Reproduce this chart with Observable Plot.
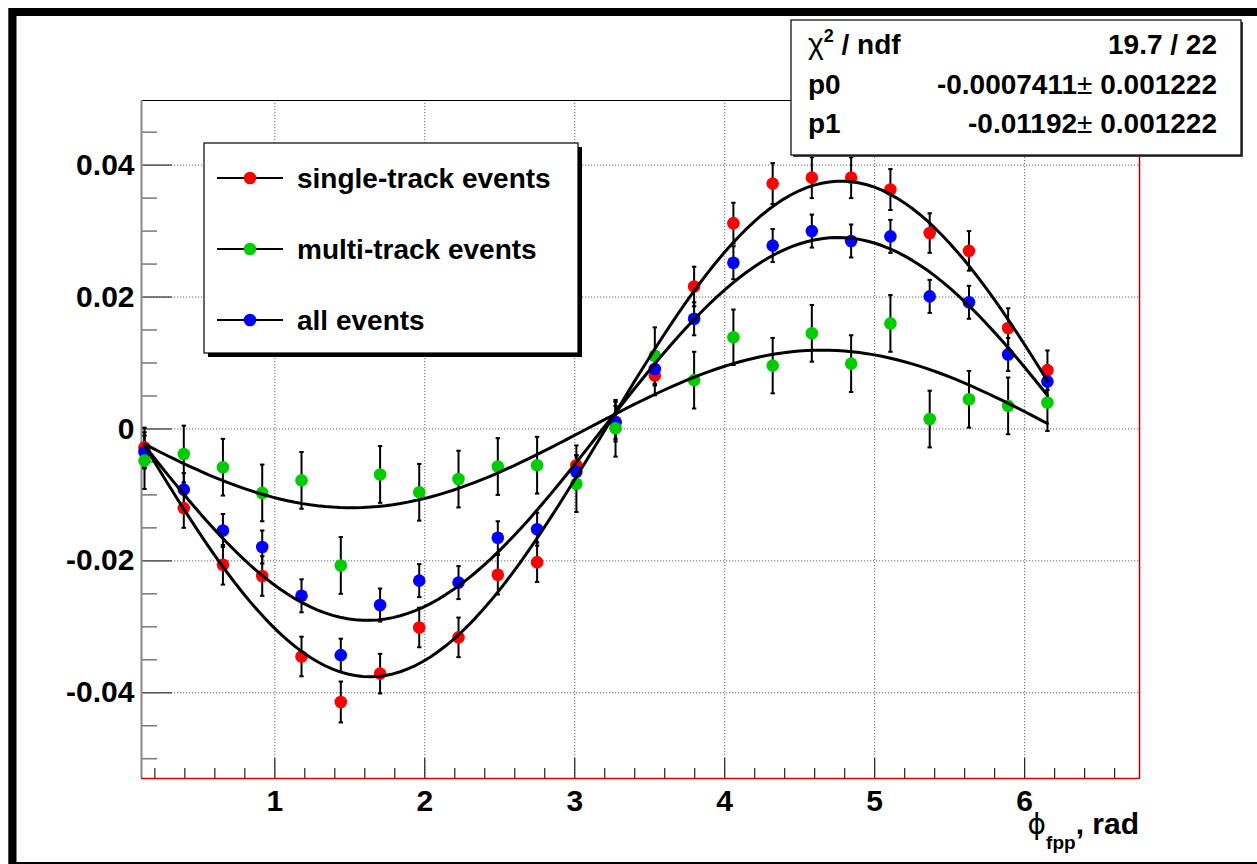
<!DOCTYPE html>
<html><head><meta charset="utf-8">
<script src="https://cdn.jsdelivr.net/npm/d3@7"></script>
<script src="https://cdn.jsdelivr.net/npm/@observablehq/plot@0.6"></script>
<style>
html,body{margin:0;padding:0;background:#fff;}
#chart svg{display:block;}
</style></head><body><div id="chart"></div>
<script>
// ---------- data ----------
const xCenters = [0.131, 0.393, 0.654, 0.916, 1.178, 1.440, 1.702, 1.963, 2.225, 2.487, 2.749, 3.011,
                  3.272, 3.534, 3.796, 4.058, 4.320, 4.581, 4.843, 5.105, 5.367, 5.629, 5.890, 6.152];
const singleTrack = [-0.0028, -0.0120, -0.0206, -0.0223, -0.0345, -0.0414, -0.0371, -0.0301, -0.0316, -0.0221, -0.0202, -0.0055,
                     0.0011, 0.0081, 0.0216, 0.0312, 0.0372, 0.0381, 0.0381, 0.0363, 0.0297, 0.0270, 0.0153, 0.0089];
const singleErr = [0.0030, 0.0030, 0.0030, 0.0030, 0.0030, 0.0031, 0.0030, 0.0030, 0.0030, 0.0030, 0.0030, 0.0030,
                   0.0030, 0.0030, 0.0030, 0.0031, 0.0031, 0.0031, 0.0031, 0.0031, 0.0030, 0.0030, 0.0030, 0.0030];
const multiTrack = [-0.0048, -0.0038, -0.0058, -0.0097, -0.0078, -0.0207, -0.0069, -0.0096, -0.0076, -0.0057, -0.0055, -0.0083,
                    0.0001, 0.0111, 0.0074, 0.0139, 0.0096, 0.0145, 0.0099, 0.0160, 0.0015, 0.0045, 0.0035, 0.0040];
const multiErr = [0.0043, 0.0043, 0.0043, 0.0043, 0.0043, 0.0043, 0.0043, 0.0043, 0.0043, 0.0043, 0.0043, 0.0043,
                  0.0043, 0.0043, 0.0043, 0.0042, 0.0042, 0.0043, 0.0043, 0.0043, 0.0043, 0.0043, 0.0043, 0.0043];
const allEvents = [-0.0035, -0.0092, -0.0154, -0.0179, -0.0253, -0.0343, -0.0267, -0.0230, -0.0233, -0.0165, -0.0152, -0.0065,
                   0.0010, 0.0091, 0.0167, 0.0252, 0.0278, 0.0300, 0.0285, 0.0292, 0.0201, 0.0192, 0.0113, 0.0072];
const allErr = [0.0025, 0.0025, 0.0025, 0.0025, 0.0025, 0.0025, 0.0025, 0.0025, 0.0025, 0.0025, 0.0025, 0.0025,
                0.0025, 0.0025, 0.0025, 0.0025, 0.0025, 0.0025, 0.0025, 0.0025, 0.0025, 0.0025, 0.0025, 0.0025];

const seriesNames = ["single-track events", "multi-track events", "all events"];
const seriesColors = ["#ff0000", "#00cc00", "#0000ff"];
// fit y = p0*cos(phi) + p1*sin(phi)
const fitP0 = [0.0024, -0.0007411, 0.0013];
const fitP1 = [-0.0375, -0.01192, -0.0290];

const statNames = ["ndf", "p0", "p1"];
const statValues = ["19.7 / 22", "-0.0007411", "-0.01192"];
const statErrors = [null, "0.001222", "0.001222"];

const xMajor = [1, 2, 3, 4, 5, 6];
const xMinor = [0.2,0.4,0.6,0.8,1.2,1.4,1.6,1.8,2.2,2.4,2.6,2.8,3.2,3.4,3.6,3.8,4.2,4.4,4.6,4.8,5.2,5.4,5.6,5.8,6.2,6.4,6.6];
const yMajor = [-0.04, -0.02, 0, 0.02, 0.04];
const yMinor = [-0.05,-0.045,-0.035,-0.03,-0.025,-0.015,-0.01,-0.005,0.005,0.01,0.015,0.025,0.03,0.035,0.045];

// ---------- layout ----------
const W = 1257, H = 864;
const mL = 141, mR = 118, mT = 100, mB = 86;
const xDomain = [0.111, 6.766], yDomain = [-0.053, 0.0498];
const plotW = W - mL - mR, plotH = H - mT - mB;
const dxPerPx = (xDomain[1] - xDomain[0]) / plotW;
const dyPerPx = (yDomain[1] - yDomain[0]) / plotH;
const FONT = "'Liberation Sans', Arial, Helvetica, sans-serif";

const series = seriesNames.map((name, i) => ({
  name, color: seriesColors[i],
  values: [singleTrack, multiTrack, allEvents][i],
  errors: [singleErr, multiErr, allErr][i],
  p0: fitP0[i], p1: fitP1[i]
}));
const pointsOf = s => xCenters.map((x, i) => ({series: s.name, x, y: s.values[i], err: s.errors[i]}));
const allPoints = series.flatMap(pointsOf);
const drawOrder = [0, 2, 1]; // red, blue, green

const curves = series.flatMap(s => {
  const a = xCenters[0], b = xCenters[xCenters.length - 1], n = 120;
  return d3.range(n + 1).map(j => {
    const x = a + (b - a) * j / n;
    return {series: s.name, x, y: s.p0 * Math.cos(x) + s.p1 * Math.sin(x)};
  });
});

const capSymbol = {draw(ctx, size) { const r = Math.sqrt(size / Math.PI); ctx.moveTo(-r, 0); ctx.lineTo(r, 0); }};
const fmtY = d => d === 0 ? "0" : d.toFixed(2);
const fmtX = d => String(d);

const chart = Plot.plot({
  width: W, height: H,
  marginLeft: mL, marginRight: mR, marginTop: mT, marginBottom: mB,
  style: {fontFamily: FONT, fontWeight: "bold", background: "white", overflow: "visible"},
  x: {domain: xDomain, label: null},
  y: {domain: yDomain, label: null},
  marks: [
    Plot.gridX(xMajor, {stroke: "#666", strokeOpacity: 1, strokeDasharray: "1.2,1.8", strokeWidth: 1}),
    Plot.gridY(yMajor, {stroke: "#666", strokeOpacity: 1, strokeDasharray: "1.2,1.8", strokeWidth: 1}),
    // inward ticks
    Plot.ruleX(xMinor, {x: d => d, y1: yDomain[0], y2: yDomain[0] + 10 * dyPerPx, stroke: "#222", strokeWidth: 1.2}),
    Plot.ruleX(xMajor, {x: d => d, y1: yDomain[0], y2: yDomain[0] + 20 * dyPerPx, stroke: "#222", strokeWidth: 1.2}),
    Plot.ruleY(yMinor, {y: d => d, x1: xDomain[0], x2: xDomain[0] + 16 * dxPerPx, stroke: "#777", strokeWidth: 1.5}),
    Plot.ruleY(yMajor, {y: d => d, x1: xDomain[0], x2: xDomain[0] + 31 * dxPerPx, stroke: "#555", strokeWidth: 1.5}),
    // frame
    Plot.frame({stroke: "black", strokeWidth: 1}),
    Plot.ruleX([xDomain[0]], {stroke: "#888", strokeWidth: 2}),
    Plot.ruleY([yDomain[0]], {stroke: "#e00000", strokeWidth: 1.5}),
    Plot.ruleX([xDomain[1]], {stroke: "#b00000", strokeWidth: 1.5}),
    // axes labels
    Plot.axisX({ticks: xMajor, tickSize: 0, tickPadding: 11, tickFormat: fmtX, fontSize: 30, fontWeight: "bold", fill: "black", label: null}),
    Plot.axisY({ticks: yMajor, tickSize: 0, tickPadding: 7, tickFormat: fmtY, fontSize: 30, fontWeight: "bold", fill: "black", label: null}),
    // error bars
    Plot.ruleX(allPoints, {x: "x", y1: d => d.y - d.err, y2: d => d.y + d.err, stroke: "black", strokeWidth: 2}),
    Plot.dot(allPoints, {x: "x", y: d => d.y - d.err, symbol: capSymbol, r: 2.2, stroke: "black", fill: "none", strokeWidth: 2}),
    Plot.dot(allPoints, {x: "x", y: d => d.y + d.err, symbol: capSymbol, r: 2.2, stroke: "black", fill: "none", strokeWidth: 2}),
    // markers
    ...drawOrder.map(i => Plot.dot(pointsOf(series[i]), {x: "x", y: "y", r: 6.3, fill: series[i].color, stroke: "none"})),
    // fits
    Plot.line(curves, {x: "x", y: "y", z: "series", stroke: "black", strokeWidth: 3, strokeLinejoin: "round"})
  ]
});
document.getElementById("chart").appendChild(chart);

// ---------- overlays ----------
const svg = d3.select(chart);
const sx = chart.scale("x"), sy = chart.scale("y");
const txt = (sel) => sel.attr("font-family", FONT).attr("font-weight", "bold").attr("fill", "black");

// x-axis title
const title = txt(svg.append("text")).attr("x", sx.apply(xDomain[1])).attr("y", 834)
  .attr("text-anchor", "end").attr("font-size", 30);
title.append("tspan").attr("font-family", "'DejaVu Sans', sans-serif").attr("font-weight", "normal").attr("font-size", 28).text("\u03D5");
title.append("tspan").attr("font-size", 19).attr("dy", 15).text("fpp");
title.append("tspan").attr("dy", -15).text(", rad");

// legend
const lg = svg.append("g");
const lx = 204, ly = 143, lw = 374, lh = 210;
lg.append("rect").attr("x", lx + 4).attr("y", ly + 4).attr("width", lw).attr("height", lh).attr("fill", "black");
lg.append("rect").attr("x", lx).attr("y", ly).attr("width", lw).attr("height", lh).attr("fill", "white").attr("stroke", "black").attr("stroke-width", 1.2);
const entryY = [178, 249, 320];
seriesNames.forEach((name, i) => {
  lg.append("line").attr("x1", 217).attr("x2", 283).attr("y1", entryY[i]).attr("y2", entryY[i]).attr("stroke", "black").attr("stroke-width", 2);
  lg.append("circle").attr("cx", 250).attr("cy", entryY[i]).attr("r", 6.3).attr("fill", seriesColors[i]);
  txt(lg.append("text")).attr("x", 297).attr("y", entryY[i]).attr("dy", "0.36em")
    .attr("text-anchor", "start").attr("font-size", 28).text(name);
});

// stats box
const st = svg.append("g");
const bx = 791, by = 20, bw = 450, bh = 135;
st.append("rect").attr("x", bx + 2).attr("y", by + 2).attr("width", bw).attr("height", bh).attr("fill", "#444");
st.append("rect").attr("x", bx).attr("y", by).attr("width", bw).attr("height", bh).attr("fill", "white").attr("stroke", "black").attr("stroke-width", 1.2);
const rowY = [54, 94, 133];
statNames.forEach((nm, i) => {
  const t = txt(st.append("text")).attr("x", 808).attr("y", rowY[i]).attr("text-anchor", "start").attr("font-size", 28);
  if (i === 0) {
    t.append("tspan").attr("font-weight", "normal").attr("font-size", 30).text("\u03C7");
    t.append("tspan").attr("font-size", 18).attr("dy", -12).text("2");
    t.append("tspan").attr("dy", 12).text(" / " + nm);
  } else t.text(nm);
  const v = txt(st.append("text")).attr("x", 1217).attr("y", rowY[i]).attr("text-anchor", "end").attr("font-size", 28);
  if (statErrors[i] === null) v.text(statValues[i]);
  else {
    v.append("tspan").text(statValues[i]);
    v.append("tspan").attr("font-weight", "normal").text("\u00B1");
    v.append("tspan").text(" " + statErrors[i]);
  }
});

// canvas border (thick black, cropped at right/bottom)
svg.append("rect").attr("x", 8.5).attr("y", 8.5).attr("width", 1400).attr("height", 1000).attr("fill", "none").attr("stroke", "#999").attr("stroke-width", 1);
svg.append("rect").attr("x", 12.5).attr("y", 12).attr("width", 1400).attr("height", 854).attr("fill", "none").attr("stroke", "black").attr("stroke-width", 8);
</script></body></html>
